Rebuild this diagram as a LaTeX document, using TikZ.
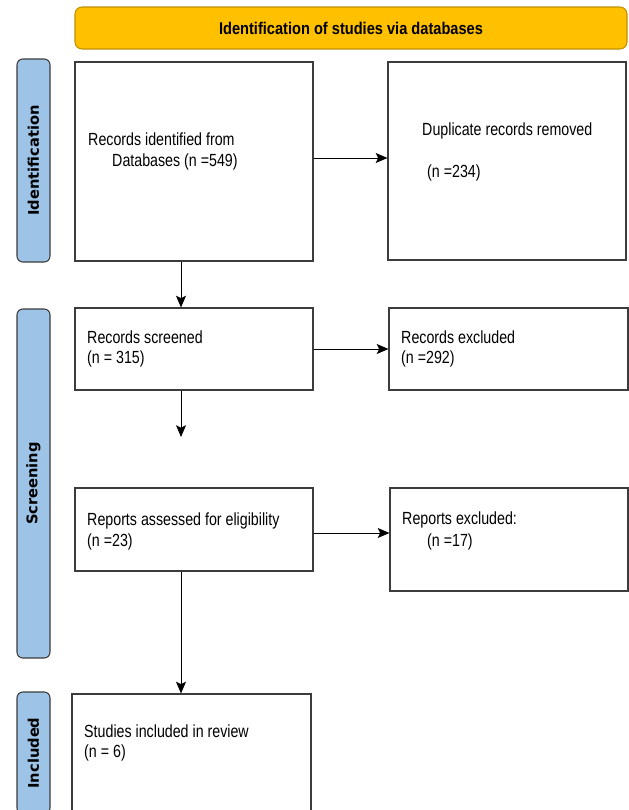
\documentclass[tikz,border=0pt]{standalone}
\usepackage{fontspec}
\setmainfont{Liberation Sans}[FakeStretch=0.81]
\newfontfamily\headfont{Liberation Sans}[FakeStretch=0.86]
\newfontfamily\sidefont{DejaVu Sans}
\usetikzlibrary{arrows.meta}
\definecolor{headfill}{HTML}{FFC000}
\definecolor{headline}{HTML}{BF9000}
\definecolor{stagefill}{HTML}{9DC3E6}
\definecolor{boxline}{HTML}{3C3C3C}
\def\px{0.03cm}
\tikzset{
    box/.style={draw=boxline, line width=0.9pt, inner sep=0pt},
    stage/.style={draw=boxline, fill=stagefill, rounded corners=5pt, line width=0.9pt, inner sep=0pt, rotate=90, minimum height=33*\px, font=\sidefont\bfseries\fontsize{12.5pt}{14pt}\selectfont},
    txt/.style={anchor=base west, inner sep=0pt, font=\fontsize{15pt}{18pt}\selectfont},
    arr/.style={-{Stealth[length=10pt, width=8.5pt, inset=2pt]}, line width=0.8pt},
}
\begin{document}
\begin{tikzpicture}[x=0.03cm, y=-0.03cm]
\useasboundingbox (0,0) rectangle (629,810);
\clip (0,0) rectangle (629,810);

\node[draw=headline, fill=headfill, rounded corners=6pt, line width=0.9pt, minimum width=552*\px, minimum height=42*\px, font=\headfont\bfseries\fontsize{14.5pt}{16pt}\selectfont] (head) at (351,28) {Identification of studies via databases};

\node[stage, minimum width=203*\px] (ident) at (33.5,160.5) {Identification};
\node[stage, minimum width=349*\px] (screen) at (33.5,483.5) {Screening};
\node[stage, minimum width=122*\px] (incl) at (33.5,753) {Included};

\node[box, minimum width=238*\px, minimum height=199*\px] (found) at (194,161.5) {};
\node[box, minimum width=238*\px, minimum height=198*\px] (dupl) at (507,161) {};
\node[box, minimum width=238*\px, minimum height=82*\px] (scr) at (194,349) {};
\node[box, minimum width=239*\px, minimum height=82*\px] (excl) at (508.5,349) {};
\node[box, minimum width=238*\px, minimum height=83*\px] (assess) at (194,529.5) {};
\node[box, minimum width=238*\px, minimum height=103*\px] (rexcl) at (509,539.5) {};
\node[box, minimum width=239*\px, minimum height=120*\px] (study) at (191.5,754) {};

\node[txt] (found1) at (88,145) {Records identified from};
\node[txt] (found2) at (112,166) {Databases (n =549)};
\node[txt] (dupl1) at (422,135) {Duplicate records removed};
\node[txt] (dupl2) at (427,177) {(n =234)};
\node[txt] (scr1) at (87,343) {Records screened};
\node[txt] (scr2) at (87,363) {(n = 315)};
\node[txt] (excl1) at (401,343) {Records excluded};
\node[txt] (excl2) at (401,363) {(n =292)};
\node[txt] (assess1) at (87,525) {Reports assessed for eligibility};
\node[txt] (assess2) at (87,546) {(n =23)};
\node[txt] (rexcl1) at (402,524) {Reports excluded:};
\node[txt] (rexcl2) at (427,546) {(n =17)};
\node[txt] (study1) at (84,737) {Studies included in review};
\node[txt] (study2) at (84,757) {(n = 6)};

\coordinate (gap) at (181,437);

\draw[arr] (found.east |- 0,158) -- (dupl.west |- 0,158);
\draw[arr] (scr.east) -- (excl.west);
\draw[arr] (assess.east |- 0,533) -- (rexcl.west |- 0,533);
\draw[arr] ([xshift=-13*\px]found.south) -- ([xshift=-13*\px]scr.north);
\draw[arr] ([xshift=-13*\px]scr.south) -- (gap);
\draw[arr] ([xshift=-13*\px]assess.south) -- ([xshift=-10.5*\px]study.north);
\end{tikzpicture}
\end{document}
